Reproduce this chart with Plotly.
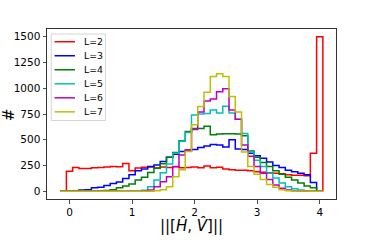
import plotly.graph_objects as go

# Bin edges (shared), 42 bins of width 0.1
edges = [-0.15, -0.05, 0.05, 0.15, 0.25, 0.35, 0.45, 0.55, 0.65, 0.75, 0.85,
         0.95, 1.05, 1.15, 1.25, 1.35, 1.45, 1.55, 1.65, 1.75, 1.85,
         1.95, 2.05, 2.15, 2.25, 2.35, 2.45, 2.55, 2.65, 2.75, 2.85,
         2.95, 3.05, 3.15, 3.25, 3.35, 3.45, 3.55, 3.65, 3.75, 3.85,
         3.95, 4.05]

counts_L2 = [0, 195, 230, 220, 222, 228, 230, 235, 240, 238, 270,
             200, 225, 232, 235, 225, 235, 230, 238, 228, 230,
             235, 228, 245, 228, 232, 215, 210, 205, 205, 200,
             190, 185, 180, 175, 170, 160, 155, 155, 150, 370,
             1500]
counts_L3 = [0, 2, 5, 12, 15, 35, 40, 55, 75, 90, 125,
             160, 200, 215, 240, 255, 290, 330, 360, 385, 390,
             405, 425, 440, 455, 450, 430, 500, 410, 405, 370,
             345, 320, 285, 250, 230, 205, 190, 175, 160, 85,
             0]
counts_L4 = [0, 0, 0, 1, 2, 3, 5, 8, 15, 35, 52,
             71, 110, 136, 181, 224, 266, 331, 376, 490, 580,
             610, 610, 630, 548, 555, 558, 558, 555, 540, 390,
             330, 280, 240, 200, 165, 135, 110, 80, 50, 35,
             0]
counts_L5 = [0, 0, 0, 0, 0, 0, 0, 0, 0, 0, 1,
             2, 3, 10, 45, 110, 180, 265, 370, 486, 571,
             740, 750, 755, 790, 760, 825, 760, 700, 560, 380,
             300, 240, 175, 130, 80, 45, 25, 12, 6, 3,
             1]
counts_L6 = [0, 0, 0, 0, 0, 0, 0, 0, 0, 0, 0,
             0, 1, 3, 13, 45, 93, 142, 240, 353, 402,
             600, 770, 875, 895, 965, 995, 790, 700, 450, 340,
             240, 175, 115, 60, 30, 13, 6, 3, 2, 1,
             0]
counts_L7 = [0, 0, 0, 0, 0, 0, 0, 0, 0, 0, 0,
             0, 0, 0, 1, 5, 15, 45, 140, 210, 385,
             645, 824, 960, 1115, 1140, 1115, 920, 770, 380, 240,
             165, 115, 65, 40, 15, 5, 3, 2, 2, 1,
             1]

labels = ["L=2", "L=3", "L=4", "L=5", "L=6", "L=7"]
first_bin = [1, 0, 0, 0, 0, 0]   # index of the first bin each histogram covers
colors = ["#ff0000", "#0000ff", "#008000", "#00bfbf", "#bf00bf", "#bfbf00"]
series = [counts_L2, counts_L3, counts_L4, counts_L5, counts_L6, counts_L7]

x_ticks = [0, 1, 2, 3, 4]
y_ticks = [0, 250, 500, 750, 1000, 1250, 1500]

fig = go.Figure()
for lab, col, cnt, fb in zip(labels, colors, series, first_bin):
    e = edges[fb:]
    c = cnt[fb:]
    xs = [e[0]] + e
    ys = [0] + c + [0]
    fig.add_trace(go.Scatter(x=xs, y=ys, mode="lines", name=lab,
                             line=dict(color=col, width=1.5, shape="hv"),
                             showlegend=False, hoverinfo="skip"))

# plot area in pixels
L, R, T, B = 46.7, 336.3, 29.3, 199.0
W, H = R - L, B - T

def px(x):
    return (x - L) / W

def py(y):
    return (B - y) / H

shapes = []
annotations = []
# legend frame
shapes.append(dict(type="rect", xref="paper", yref="paper",
                   x0=px(51), x1=px(105.3), y0=py(120.7), y1=py(34.3),
                   line=dict(color="#d5d5d5", width=1), fillcolor="rgba(255,255,255,0.8)",
                   layer="above"))
for i, (lab, col) in enumerate(zip(labels, colors)):
    yy = 42 + 14 * i
    shapes.append(dict(type="line", xref="paper", yref="paper",
                       x0=px(54.3), x1=px(74.7), y0=py(yy), y1=py(yy),
                       line=dict(color=col, width=1.5), layer="above"))
    annotations.append(dict(xref="paper", yref="paper", x=px(81.5), y=py(yy),
                            text=lab, showarrow=False, xanchor="left", yanchor="middle",
                            font=dict(size=9.3, color="black", family="DejaVu Sans")))

# axis titles
annotations.append(dict(xref="paper", yref="paper", x=px(191), y=py(225),
                        text="||[<i>Ĥ</i>, <i>V̂</i>]||", showarrow=False,
                        xanchor="center", yanchor="middle",
                        font=dict(size=15, color="black", family="DejaVu Sans")))
annotations.append(dict(xref="paper", yref="paper", x=px(8.5), y=py(114.5),
                        text="#", showarrow=False, textangle=-90,
                        xanchor="center", yanchor="middle",
                        font=dict(size=15, color="black", family="DejaVu Sans")))

fig.update_layout(
    width=374, height=249,
    margin=dict(l=L, r=374 - R, t=T, b=249 - B),
    paper_bgcolor="white", plot_bgcolor="white",
    font=dict(family="DejaVu Sans", size=10.5, color="black"),
    shapes=shapes, annotations=annotations,
    showlegend=False,
)
fig.update_xaxes(range=[-0.36, 4.26], tickvals=x_ticks, ticks="outside", ticklen=3.5,
                 tickwidth=0.8, tickcolor="#222", showline=True, linecolor="#333",
                 linewidth=1, mirror=True, showgrid=False, zeroline=False,
                 tickfont=dict(size=10.5))
fig.update_yaxes(range=[-75, 1575], tickvals=y_ticks, ticks="outside", ticklen=3.5,
                 tickwidth=0.8, tickcolor="#222", showline=True, linecolor="#333",
                 linewidth=1, mirror=True, showgrid=False, zeroline=False,
                 tickfont=dict(size=10.5))

fig.write_html("out.html", config={"displayModeBar": False, "staticPlot": True},
               post_script="document.body.style.margin='0';document.body.style.overflow='hidden';")
